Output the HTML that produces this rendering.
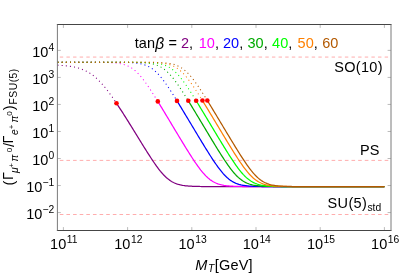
<!DOCTYPE html>
<html><head><meta charset="utf-8"><style>
html,body{margin:0;padding:0;background:#fff;overflow:hidden;}
svg{display:block;font-family:"Liberation Sans",sans-serif;}
.t{font-size:14.5px;fill:#000;}
.s{font-size:10.3px;fill:#000;}
.s2{font-size:8px;fill:#000;}
.i{font-style:italic;}
.dt{fill:none;stroke-width:1.05;stroke-dasharray:1.05 3.1;stroke-dashoffset:-0.12;}
.sl{fill:none;stroke-width:1.25;stroke-linejoin:round;}
.tk{fill:none;stroke:#666;stroke-width:0.45;}
.fr{fill:none;stroke:#454545;stroke-width:1;}
.rd{fill:none;stroke:#ff8080;stroke-width:0.65;stroke-dasharray:3.6 3.03;}
.pk{fill:none;stroke:#ffd0d0;stroke-width:1.8;stroke-dasharray:3.4 3.23;}
</style></head><body>
<svg width="415" height="274" viewBox="0 0 415 274">
<rect width="415" height="274" fill="#fff"/>
<path d="M59.8,57.1 H388.6" class="pk"/>
<path d="M59.8,160.4 H388.6" class="rd"/>
<path d="M59.8,214.5 H388.6" class="rd"/>
<path d="M57.40,65.14 L58.40,65.20 L59.40,65.26 L60.40,65.33 L61.40,65.40 L62.40,65.48 L63.40,65.56 L64.40,65.66 L65.40,65.76 L66.40,65.86 L67.40,65.98 L68.40,66.11 L69.40,66.24 L70.40,66.39 L71.40,66.55 L72.40,66.72 L73.40,66.91 L74.40,67.11 L75.40,67.33 L76.40,67.57 L77.40,67.82 L78.40,68.10 L79.40,68.39 L80.40,68.71 L81.40,69.06 L82.40,69.43 L83.40,69.83 L84.40,70.26 L85.40,70.72 L86.40,71.21 L87.40,71.74 L88.40,72.31 L89.40,72.91 L90.40,73.55 L91.40,74.23 L92.40,74.94 L93.40,75.70 L94.40,76.51 L95.40,77.35 L96.40,78.23 L97.40,79.16 L98.40,80.12 L99.40,81.13 L100.40,82.17 L101.40,83.26 L102.40,84.38 L103.40,85.54 L104.40,86.73 L105.40,87.95 L106.40,89.21 L107.40,90.49 L108.40,91.80 L109.40,93.14 L110.40,94.51 L111.40,95.89 L112.40,97.30 L113.40,98.73 L114.40,100.18 L115.40,101.64 L116.40,103.13 L116.50,103.27" stroke="#800080" class="dt"/>
<path d="M57.40,62.25 L58.40,62.25 L59.40,62.25 L60.40,62.25 L61.40,62.25 L62.40,62.25 L63.40,62.25 L64.40,62.25 L65.40,62.25 L66.40,62.25 L67.40,62.25 L68.40,62.25 L69.40,62.25 L70.40,62.25 L71.40,62.25 L72.40,62.25 L73.40,62.25 L74.40,62.25 L75.40,62.25 L76.40,62.25 L77.40,62.25 L78.40,62.25 L79.40,62.25 L80.40,62.25 L81.40,62.26 L82.40,62.26 L83.40,62.26 L84.40,62.26 L85.40,62.26 L86.40,62.26 L87.40,62.26 L88.40,62.27 L89.40,62.27 L90.40,62.27 L91.40,62.27 L92.40,62.28 L93.40,62.28 L94.40,62.29 L95.40,62.29 L96.40,62.30 L97.40,62.30 L98.40,62.31 L99.40,62.32 L100.40,62.33 L101.40,62.35 L102.40,62.36 L103.40,62.38 L104.40,62.40 L105.40,62.42 L106.40,62.45 L107.40,62.48 L108.40,62.51 L109.40,62.55 L110.40,62.60 L111.40,62.65 L112.40,62.71 L113.40,62.78 L114.40,62.86 L115.40,62.95 L116.40,63.06 L117.40,63.18 L118.40,63.32 L119.40,63.47 L120.40,63.65 L121.40,63.85 L122.40,64.08 L123.40,64.34 L124.40,64.63 L125.40,64.96 L126.40,65.33 L127.40,65.74 L128.40,66.19 L129.40,66.70 L130.40,67.25 L131.40,67.87 L132.40,68.54 L133.40,69.26 L134.40,70.05 L135.40,70.90 L136.40,71.81 L137.40,72.78 L138.40,73.80 L139.40,74.88 L140.40,76.02 L141.40,77.21 L142.40,78.45 L143.40,79.73 L144.40,81.05 L145.40,82.42 L146.40,83.82 L147.40,85.25 L148.40,86.71 L149.40,88.19 L150.40,89.70 L151.40,91.24 L152.40,92.79 L153.40,94.35 L154.40,95.93 L155.40,97.53 L156.40,99.13 L157.40,100.75 L157.80,101.40" stroke="#ff00ff" class="dt"/>
<path d="M57.40,62.25 L58.40,62.25 L59.40,62.25 L60.40,62.25 L61.40,62.25 L62.40,62.25 L63.40,62.25 L64.40,62.25 L65.40,62.25 L66.40,62.25 L67.40,62.25 L68.40,62.25 L69.40,62.25 L70.40,62.25 L71.40,62.25 L72.40,62.25 L73.40,62.25 L74.40,62.25 L75.40,62.25 L76.40,62.25 L77.40,62.25 L78.40,62.25 L79.40,62.25 L80.40,62.25 L81.40,62.25 L82.40,62.25 L83.40,62.25 L84.40,62.25 L85.40,62.25 L86.40,62.25 L87.40,62.25 L88.40,62.25 L89.40,62.25 L90.40,62.25 L91.40,62.25 L92.40,62.25 L93.40,62.25 L94.40,62.25 L95.40,62.25 L96.40,62.25 L97.40,62.25 L98.40,62.25 L99.40,62.25 L100.40,62.26 L101.40,62.26 L102.40,62.26 L103.40,62.26 L104.40,62.26 L105.40,62.26 L106.40,62.26 L107.40,62.26 L108.40,62.27 L109.40,62.27 L110.40,62.27 L111.40,62.27 L112.40,62.28 L113.40,62.28 L114.40,62.29 L115.40,62.29 L116.40,62.30 L117.40,62.31 L118.40,62.32 L119.40,62.33 L120.40,62.34 L121.40,62.35 L122.40,62.37 L123.40,62.39 L124.40,62.41 L125.40,62.43 L126.40,62.46 L127.40,62.49 L128.40,62.53 L129.40,62.57 L130.40,62.62 L131.40,62.68 L132.40,62.75 L133.40,62.82 L134.40,62.91 L135.40,63.00 L136.40,63.12 L137.40,63.24 L138.40,63.39 L139.40,63.56 L140.40,63.75 L141.40,63.96 L142.40,64.20 L143.40,64.48 L144.40,64.79 L145.40,65.13 L146.40,65.52 L147.40,65.96 L148.40,66.44 L149.40,66.97 L150.40,67.55 L151.40,68.19 L152.40,68.89 L153.40,69.65 L154.40,70.46 L155.40,71.34 L156.40,72.28 L157.40,73.28 L158.40,74.33 L159.40,75.44 L160.40,76.60 L161.40,77.82 L162.40,79.08 L163.40,80.38 L164.40,81.72 L165.40,83.10 L166.40,84.52 L167.40,85.97 L168.40,87.44 L169.40,88.94 L170.40,90.46 L171.40,92.00 L172.40,93.56 L173.40,95.13 L174.40,96.72 L175.40,98.32 L176.40,99.93 L177.00,100.90" stroke="#0000ff" class="dt"/>
<path d="M57.40,62.25 L58.40,62.25 L59.40,62.25 L60.40,62.25 L61.40,62.25 L62.40,62.25 L63.40,62.25 L64.40,62.25 L65.40,62.25 L66.40,62.25 L67.40,62.25 L68.40,62.25 L69.40,62.25 L70.40,62.25 L71.40,62.25 L72.40,62.25 L73.40,62.25 L74.40,62.25 L75.40,62.25 L76.40,62.25 L77.40,62.25 L78.40,62.25 L79.40,62.25 L80.40,62.25 L81.40,62.25 L82.40,62.25 L83.40,62.25 L84.40,62.25 L85.40,62.25 L86.40,62.25 L87.40,62.25 L88.40,62.25 L89.40,62.25 L90.40,62.25 L91.40,62.25 L92.40,62.25 L93.40,62.25 L94.40,62.25 L95.40,62.25 L96.40,62.25 L97.40,62.25 L98.40,62.25 L99.40,62.25 L100.40,62.25 L101.40,62.25 L102.40,62.25 L103.40,62.25 L104.40,62.25 L105.40,62.25 L106.40,62.25 L107.40,62.25 L108.40,62.25 L109.40,62.25 L110.40,62.25 L111.40,62.25 L112.40,62.26 L113.40,62.26 L114.40,62.26 L115.40,62.26 L116.40,62.26 L117.40,62.26 L118.40,62.26 L119.40,62.27 L120.40,62.27 L121.40,62.27 L122.40,62.27 L123.40,62.28 L124.40,62.28 L125.40,62.29 L126.40,62.29 L127.40,62.30 L128.40,62.31 L129.40,62.31 L130.40,62.32 L131.40,62.34 L132.40,62.35 L133.40,62.36 L134.40,62.38 L135.40,62.40 L136.40,62.42 L137.40,62.45 L138.40,62.48 L139.40,62.52 L140.40,62.56 L141.40,62.61 L142.40,62.66 L143.40,62.72 L144.40,62.79 L145.40,62.87 L146.40,62.97 L147.40,63.07 L148.40,63.20 L149.40,63.34 L150.40,63.49 L151.40,63.67 L152.40,63.88 L153.40,64.11 L154.40,64.37 L155.40,64.67 L156.40,65.00 L157.40,65.38 L158.40,65.79 L159.40,66.25 L160.40,66.77 L161.40,67.33 L162.40,67.95 L163.40,68.63 L164.40,69.36 L165.40,70.16 L166.40,71.01 L167.40,71.93 L168.40,72.91 L169.40,73.94 L170.40,75.03 L171.40,76.17 L172.40,77.37 L173.40,78.61 L174.40,79.90 L175.40,81.23 L176.40,82.60 L177.40,84.00 L178.40,85.44 L179.40,86.90 L180.40,88.39 L181.40,89.90 L182.40,91.44 L183.40,92.99 L184.40,94.56 L185.40,96.14 L186.40,97.74 L187.40,99.34 L188.30,100.80" stroke="#00aa00" class="dt"/>
<path d="M57.40,62.25 L58.40,62.25 L59.40,62.25 L60.40,62.25 L61.40,62.25 L62.40,62.25 L63.40,62.25 L64.40,62.25 L65.40,62.25 L66.40,62.25 L67.40,62.25 L68.40,62.25 L69.40,62.25 L70.40,62.25 L71.40,62.25 L72.40,62.25 L73.40,62.25 L74.40,62.25 L75.40,62.25 L76.40,62.25 L77.40,62.25 L78.40,62.25 L79.40,62.25 L80.40,62.25 L81.40,62.25 L82.40,62.25 L83.40,62.25 L84.40,62.25 L85.40,62.25 L86.40,62.25 L87.40,62.25 L88.40,62.25 L89.40,62.25 L90.40,62.25 L91.40,62.25 L92.40,62.25 L93.40,62.25 L94.40,62.25 L95.40,62.25 L96.40,62.25 L97.40,62.25 L98.40,62.25 L99.40,62.25 L100.40,62.25 L101.40,62.25 L102.40,62.25 L103.40,62.25 L104.40,62.25 L105.40,62.25 L106.40,62.25 L107.40,62.25 L108.40,62.25 L109.40,62.25 L110.40,62.25 L111.40,62.25 L112.40,62.25 L113.40,62.25 L114.40,62.25 L115.40,62.25 L116.40,62.25 L117.40,62.25 L118.40,62.25 L119.40,62.25 L120.40,62.26 L121.40,62.26 L122.40,62.26 L123.40,62.26 L124.40,62.26 L125.40,62.26 L126.40,62.26 L127.40,62.27 L128.40,62.27 L129.40,62.27 L130.40,62.27 L131.40,62.28 L132.40,62.28 L133.40,62.29 L134.40,62.29 L135.40,62.30 L136.40,62.31 L137.40,62.32 L138.40,62.33 L139.40,62.34 L140.40,62.35 L141.40,62.37 L142.40,62.38 L143.40,62.40 L144.40,62.43 L145.40,62.46 L146.40,62.49 L147.40,62.52 L148.40,62.56 L149.40,62.61 L150.40,62.67 L151.40,62.73 L152.40,62.80 L153.40,62.88 L154.40,62.98 L155.40,63.09 L156.40,63.21 L157.40,63.35 L158.40,63.52 L159.40,63.70 L160.40,63.91 L161.40,64.14 L162.40,64.41 L163.40,64.71 L164.40,65.05 L165.40,65.43 L166.40,65.85 L167.40,66.32 L168.40,66.84 L169.40,67.41 L170.40,68.04 L171.40,68.72 L172.40,69.46 L173.40,70.27 L174.40,71.13 L175.40,72.05 L176.40,73.04 L177.40,74.08 L178.40,75.17 L179.40,76.32 L180.40,77.52 L181.40,78.77 L182.40,80.07 L183.40,81.40 L184.40,82.78 L185.40,84.18 L186.40,85.62 L187.40,87.09 L188.40,88.58 L189.40,90.10 L190.40,91.64 L191.40,93.19 L192.40,94.76 L193.40,96.35 L194.40,97.94 L195.40,99.55 L196.15,100.76" stroke="#00ff00" class="dt"/>
<path d="M57.40,62.25 L58.40,62.25 L59.40,62.25 L60.40,62.25 L61.40,62.25 L62.40,62.25 L63.40,62.25 L64.40,62.25 L65.40,62.25 L66.40,62.25 L67.40,62.25 L68.40,62.25 L69.40,62.25 L70.40,62.25 L71.40,62.25 L72.40,62.25 L73.40,62.25 L74.40,62.25 L75.40,62.25 L76.40,62.25 L77.40,62.25 L78.40,62.25 L79.40,62.25 L80.40,62.25 L81.40,62.25 L82.40,62.25 L83.40,62.25 L84.40,62.25 L85.40,62.25 L86.40,62.25 L87.40,62.25 L88.40,62.25 L89.40,62.25 L90.40,62.25 L91.40,62.25 L92.40,62.25 L93.40,62.25 L94.40,62.25 L95.40,62.25 L96.40,62.25 L97.40,62.25 L98.40,62.25 L99.40,62.25 L100.40,62.25 L101.40,62.25 L102.40,62.25 L103.40,62.25 L104.40,62.25 L105.40,62.25 L106.40,62.25 L107.40,62.25 L108.40,62.25 L109.40,62.25 L110.40,62.25 L111.40,62.25 L112.40,62.25 L113.40,62.25 L114.40,62.25 L115.40,62.25 L116.40,62.25 L117.40,62.25 L118.40,62.25 L119.40,62.25 L120.40,62.25 L121.40,62.25 L122.40,62.25 L123.40,62.25 L124.40,62.25 L125.40,62.25 L126.40,62.26 L127.40,62.26 L128.40,62.26 L129.40,62.26 L130.40,62.26 L131.40,62.26 L132.40,62.26 L133.40,62.26 L134.40,62.27 L135.40,62.27 L136.40,62.27 L137.40,62.28 L138.40,62.28 L139.40,62.28 L140.40,62.29 L141.40,62.30 L142.40,62.30 L143.40,62.31 L144.40,62.32 L145.40,62.33 L146.40,62.34 L147.40,62.36 L148.40,62.38 L149.40,62.40 L150.40,62.42 L151.40,62.44 L152.40,62.47 L153.40,62.51 L154.40,62.55 L155.40,62.59 L156.40,62.64 L157.40,62.70 L158.40,62.77 L159.40,62.85 L160.40,62.94 L161.40,63.04 L162.40,63.16 L163.40,63.29 L164.40,63.45 L165.40,63.62 L166.40,63.82 L167.40,64.04 L168.40,64.30 L169.40,64.58 L170.40,64.90 L171.40,65.26 L172.40,65.67 L173.40,66.12 L174.40,66.61 L175.40,67.16 L176.40,67.77 L177.40,68.43 L178.40,69.14 L179.40,69.92 L180.40,70.76 L181.40,71.66 L182.40,72.62 L183.40,73.63 L184.40,74.71 L185.40,75.84 L186.40,77.02 L187.40,78.25 L188.40,79.52 L189.40,80.84 L190.40,82.20 L191.40,83.59 L192.40,85.02 L193.40,86.47 L194.40,87.95 L195.40,89.46 L196.40,90.99 L197.40,92.54 L198.40,94.10 L199.40,95.68 L200.40,97.27 L201.40,98.88 L202.40,100.49 L202.45,100.57" stroke="#ff8000" class="dt"/>
<path d="M57.40,62.25 L58.40,62.25 L59.40,62.25 L60.40,62.25 L61.40,62.25 L62.40,62.25 L63.40,62.25 L64.40,62.25 L65.40,62.25 L66.40,62.25 L67.40,62.25 L68.40,62.25 L69.40,62.25 L70.40,62.25 L71.40,62.25 L72.40,62.25 L73.40,62.25 L74.40,62.25 L75.40,62.25 L76.40,62.25 L77.40,62.25 L78.40,62.25 L79.40,62.25 L80.40,62.25 L81.40,62.25 L82.40,62.25 L83.40,62.25 L84.40,62.25 L85.40,62.25 L86.40,62.25 L87.40,62.25 L88.40,62.25 L89.40,62.25 L90.40,62.25 L91.40,62.25 L92.40,62.25 L93.40,62.25 L94.40,62.25 L95.40,62.25 L96.40,62.25 L97.40,62.25 L98.40,62.25 L99.40,62.25 L100.40,62.25 L101.40,62.25 L102.40,62.25 L103.40,62.25 L104.40,62.25 L105.40,62.25 L106.40,62.25 L107.40,62.25 L108.40,62.25 L109.40,62.25 L110.40,62.25 L111.40,62.25 L112.40,62.25 L113.40,62.25 L114.40,62.25 L115.40,62.25 L116.40,62.25 L117.40,62.25 L118.40,62.25 L119.40,62.25 L120.40,62.25 L121.40,62.25 L122.40,62.25 L123.40,62.25 L124.40,62.25 L125.40,62.25 L126.40,62.25 L127.40,62.25 L128.40,62.25 L129.40,62.25 L130.40,62.25 L131.40,62.26 L132.40,62.26 L133.40,62.26 L134.40,62.26 L135.40,62.26 L136.40,62.26 L137.40,62.26 L138.40,62.26 L139.40,62.27 L140.40,62.27 L141.40,62.27 L142.40,62.28 L143.40,62.28 L144.40,62.29 L145.40,62.29 L146.40,62.30 L147.40,62.30 L148.40,62.31 L149.40,62.32 L150.40,62.33 L151.40,62.35 L152.40,62.36 L153.40,62.38 L154.40,62.40 L155.40,62.42 L156.40,62.45 L157.40,62.48 L158.40,62.51 L159.40,62.55 L160.40,62.60 L161.40,62.65 L162.40,62.71 L163.40,62.78 L164.40,62.86 L165.40,62.95 L166.40,63.05 L167.40,63.17 L168.40,63.31 L169.40,63.46 L170.40,63.64 L171.40,63.84 L172.40,64.07 L173.40,64.32 L174.40,64.61 L175.40,64.94 L176.40,65.30 L177.40,65.71 L178.40,66.17 L179.40,66.67 L180.40,67.22 L181.40,67.83 L182.40,68.50 L183.40,69.22 L184.40,70.01 L185.40,70.85 L186.40,71.76 L187.40,72.72 L188.40,73.74 L189.40,74.82 L190.40,75.96 L191.40,77.14 L192.40,78.38 L193.40,79.66 L194.40,80.98 L195.40,82.34 L196.40,83.74 L197.40,85.17 L198.40,86.63 L199.40,88.11 L200.40,89.62 L201.40,91.15 L202.40,92.70 L203.40,94.27 L204.40,95.85 L205.40,97.44 L206.40,99.04 L207.30,100.50" stroke="#b35900" class="dt"/>
<path d="M116.50,103.27 L117.50,104.77 L118.50,106.28 L119.50,107.81 L120.50,109.34 L121.50,110.89 L122.50,112.45 L123.50,114.01 L124.50,115.59 L125.50,117.17 L126.50,118.76 L127.50,120.35 L128.50,121.95 L129.50,123.56 L130.50,125.17 L131.50,126.78 L132.50,128.39 L133.50,130.01 L134.50,131.63 L135.50,133.26 L136.50,134.88 L137.50,136.50 L138.50,138.13 L139.50,139.75 L140.50,141.37 L141.50,142.99 L142.50,144.60 L143.50,146.21 L144.50,147.82 L145.50,149.41 L146.50,151.00 L147.50,152.58 L148.50,154.15 L149.50,155.71 L150.50,157.25 L151.50,158.78 L152.50,160.28 L153.50,161.77 L154.50,163.23 L155.50,164.66 L156.50,166.06 L157.50,167.43 L158.50,168.76 L159.50,170.05 L160.50,171.30 L161.50,172.49 L162.50,173.64 L163.50,174.74 L164.50,175.78 L165.50,176.77 L166.50,177.69 L167.50,178.56 L168.50,179.36 L169.50,180.11 L170.50,180.79 L171.50,181.42 L172.50,182.00 L173.50,182.52 L174.50,182.99 L175.50,183.41 L176.50,183.79 L177.50,184.13 L178.50,184.44 L179.50,184.70 L180.50,184.94 L181.50,185.15 L182.50,185.34 L183.50,185.50 L184.50,185.64 L185.50,185.77 L186.50,185.87 L187.50,185.97 L188.50,186.05 L189.50,186.13 L190.50,186.19 L191.50,186.24 L192.50,186.29 L193.50,186.33 L194.50,186.37 L195.50,186.40 L196.50,186.43 L197.50,186.45 L198.50,186.47 L199.50,186.49 L200.50,186.50 L201.50,186.52 L202.50,186.53 L203.50,186.54 L204.50,186.55 L205.50,186.55 L206.50,186.56 L207.50,186.57 L208.50,186.57 L209.50,186.57 L210.50,186.58 L211.50,186.58 L212.50,186.58 L213.50,186.59 L214.50,186.59 L215.50,186.59 L216.50,186.59 L217.50,186.59 L218.50,186.59 L219.50,186.59 L220.50,186.60 L221.50,186.60 L222.50,186.60 L223.50,186.60 L224.50,186.60 L225.50,186.60 L226.50,186.60 L227.50,186.60 L228.50,186.60 L229.50,186.60 L230.50,186.60 L231.50,186.60 L232.50,186.60 L233.50,186.60 L234.50,186.60 L235.50,186.60 L236.50,186.60 L237.50,186.60 L238.50,186.60 L239.50,186.60 L240.50,186.60 L241.50,186.60 L242.50,186.60 L243.50,186.60 L244.50,186.60 L245.50,186.60 L246.50,186.60 L247.50,186.60 L248.50,186.60 L249.50,186.60 L250.50,186.60 L251.50,186.60 L252.50,186.60 L253.50,186.60 L254.50,186.60 L255.50,186.60 L256.50,186.60 L257.50,186.60 L258.50,186.60 L259.50,186.60 L260.50,186.60 L261.50,186.60 L262.50,186.60 L263.50,186.60 L264.50,186.60 L265.50,186.60 L266.50,186.60 L267.50,186.60 L268.50,186.60 L269.50,186.60 L270.50,186.60 L271.50,186.60 L272.50,186.60 L273.50,186.60 L274.50,186.60 L275.50,186.60 L276.50,186.60 L277.50,186.60 L278.50,186.60 L279.50,186.60 L280.50,186.60 L281.50,186.60 L282.50,186.60 L283.50,186.60 L284.50,186.60 L285.50,186.60 L286.50,186.60 L287.50,186.60 L288.50,186.60 L289.50,186.60 L290.50,186.60 L291.50,186.60 L292.50,186.60 L293.50,186.60 L294.50,186.60 L295.50,186.60 L296.50,186.60 L297.50,186.60 L298.50,186.60 L299.50,186.60 L300.50,186.60 L301.50,186.60 L302.50,186.60 L303.50,186.60 L304.50,186.60 L305.50,186.60 L306.50,186.60 L307.50,186.60 L308.50,186.60 L309.50,186.60 L310.50,186.60 L311.50,186.60 L312.50,186.60 L313.50,186.60 L314.50,186.60 L315.50,186.60 L316.50,186.60 L317.50,186.60 L318.50,186.60 L319.50,186.60 L320.50,186.60 L321.50,186.60 L322.50,186.60 L323.50,186.60 L324.50,186.60 L325.50,186.60 L326.50,186.60 L327.50,186.60 L328.50,186.60 L329.50,186.60 L330.50,186.60 L331.50,186.60 L332.50,186.60 L333.50,186.60 L334.50,186.60 L335.50,186.60 L336.50,186.60 L337.50,186.60 L338.50,186.60 L339.50,186.60 L340.50,186.60 L341.50,186.60 L342.50,186.60 L343.50,186.60 L344.50,186.60 L345.50,186.60 L346.50,186.60 L347.50,186.60 L348.50,186.60 L349.50,186.60 L350.50,186.60 L351.50,186.60 L352.50,186.60 L353.50,186.60 L354.50,186.60 L355.50,186.60 L356.50,186.60 L357.50,186.60 L358.50,186.60 L359.50,186.60 L360.50,186.60 L361.50,186.60 L362.50,186.60 L363.50,186.60 L364.50,186.60 L365.50,186.60 L366.50,186.60 L367.50,186.60 L368.50,186.60 L369.50,186.60 L370.50,186.60 L371.50,186.60 L372.50,186.60 L373.50,186.60 L374.50,186.60 L375.50,186.60 L376.50,186.60 L377.50,186.60 L378.50,186.60 L379.50,186.60 L380.50,186.60 L381.50,186.60 L382.50,186.60 L383.50,186.60 L384.40,186.60" stroke="#800080" class="sl"/>
<path d="M157.80,101.40 L158.80,103.02 L159.80,104.66 L160.80,106.30 L161.80,107.94 L162.80,109.59 L163.80,111.25 L164.80,112.90 L165.80,114.56 L166.80,116.23 L167.80,117.89 L168.80,119.55 L169.80,121.22 L170.80,122.89 L171.80,124.56 L172.80,126.22 L173.80,127.89 L174.80,129.56 L175.80,131.22 L176.80,132.88 L177.80,134.55 L178.80,136.21 L179.80,137.86 L180.80,139.52 L181.80,141.16 L182.80,142.81 L183.80,144.45 L184.80,146.08 L185.80,147.71 L186.80,149.32 L187.80,150.93 L188.80,152.53 L189.80,154.11 L190.80,155.68 L191.80,157.24 L192.80,158.77 L193.80,160.29 L194.80,161.78 L195.80,163.25 L196.80,164.69 L197.80,166.10 L198.80,167.47 L199.80,168.80 L200.80,170.10 L201.80,171.34 L202.80,172.54 L203.80,173.69 L204.80,174.79 L205.80,175.83 L206.80,176.81 L207.80,177.73 L208.80,178.60 L209.80,179.40 L210.80,180.14 L211.80,180.82 L212.80,181.45 L213.80,182.02 L214.80,182.54 L215.80,183.01 L216.80,183.43 L217.80,183.81 L218.80,184.14 L219.80,184.44 L220.80,184.71 L221.80,184.95 L222.80,185.15 L223.80,185.34 L224.80,185.50 L225.80,185.64 L226.80,185.76 L227.80,185.87 L228.80,185.97 L229.80,186.05 L230.80,186.12 L231.80,186.18 L232.80,186.24 L233.80,186.29 L234.80,186.33 L235.80,186.36 L236.80,186.40 L237.80,186.42 L238.80,186.45 L239.80,186.47 L240.80,186.48 L241.80,186.50 L242.80,186.51 L243.80,186.52 L244.80,186.53 L245.80,186.54 L246.80,186.55 L247.80,186.56 L248.80,186.56 L249.80,186.57 L250.80,186.57 L251.80,186.58 L252.80,186.58 L253.80,186.58 L254.80,186.58 L255.80,186.59 L256.80,186.59 L257.80,186.59 L258.80,186.59 L259.80,186.59 L260.80,186.59 L261.80,186.59 L262.80,186.60 L263.80,186.60 L264.80,186.60 L265.80,186.60 L266.80,186.60 L267.80,186.60 L268.80,186.60 L269.80,186.60 L270.80,186.60 L271.80,186.60 L272.80,186.60 L273.80,186.60 L274.80,186.60 L275.80,186.60 L276.80,186.60 L277.80,186.60 L278.80,186.60 L279.80,186.60 L280.80,186.60 L281.80,186.60 L282.80,186.60 L283.80,186.60 L284.80,186.60 L285.80,186.60 L286.80,186.60 L287.80,186.60 L288.80,186.60 L289.80,186.60 L290.80,186.60 L291.80,186.60 L292.80,186.60 L293.80,186.60 L294.80,186.60 L295.80,186.60 L296.80,186.60 L297.80,186.60 L298.80,186.60 L299.80,186.60 L300.80,186.60 L301.80,186.60 L302.80,186.60 L303.80,186.60 L304.80,186.60 L305.80,186.60 L306.80,186.60 L307.80,186.60 L308.80,186.60 L309.80,186.60 L310.80,186.60 L311.80,186.60 L312.80,186.60 L313.80,186.60 L314.80,186.60 L315.80,186.60 L316.80,186.60 L317.80,186.60 L318.80,186.60 L319.80,186.60 L320.80,186.60 L321.80,186.60 L322.80,186.60 L323.80,186.60 L324.80,186.60 L325.80,186.60 L326.80,186.60 L327.80,186.60 L328.80,186.60 L329.80,186.60 L330.80,186.60 L331.80,186.60 L332.80,186.60 L333.80,186.60 L334.80,186.60 L335.80,186.60 L336.80,186.60 L337.80,186.60 L338.80,186.60 L339.80,186.60 L340.80,186.60 L341.80,186.60 L342.80,186.60 L343.80,186.60 L344.80,186.60 L345.80,186.60 L346.80,186.60 L347.80,186.60 L348.80,186.60 L349.80,186.60 L350.80,186.60 L351.80,186.60 L352.80,186.60 L353.80,186.60 L354.80,186.60 L355.80,186.60 L356.80,186.60 L357.80,186.60 L358.80,186.60 L359.80,186.60 L360.80,186.60 L361.80,186.60 L362.80,186.60 L363.80,186.60 L364.80,186.60 L365.80,186.60 L366.80,186.60 L367.80,186.60 L368.80,186.60 L369.80,186.60 L370.80,186.60 L371.80,186.60 L372.80,186.60 L373.80,186.60 L374.80,186.60 L375.80,186.60 L376.80,186.60 L377.80,186.60 L378.80,186.60 L379.80,186.60 L380.80,186.60 L381.80,186.60 L382.80,186.60 L383.80,186.60 L384.40,186.60" stroke="#ff00ff" class="sl"/>
<path d="M177.00,100.90 L178.00,102.53 L179.00,104.16 L180.00,105.80 L181.00,107.44 L182.00,109.09 L183.00,110.74 L184.00,112.40 L185.00,114.06 L186.00,115.72 L187.00,117.38 L188.00,119.05 L189.00,120.71 L190.00,122.38 L191.00,124.05 L192.00,125.71 L193.00,127.38 L194.00,129.05 L195.00,130.71 L196.00,132.38 L197.00,134.04 L198.00,135.70 L199.00,137.36 L200.00,139.01 L201.00,140.66 L202.00,142.31 L203.00,143.95 L204.00,145.58 L205.00,147.21 L206.00,148.83 L207.00,150.44 L208.00,152.04 L209.00,153.63 L210.00,155.21 L211.00,156.77 L212.00,158.31 L213.00,159.83 L214.00,161.33 L215.00,162.81 L216.00,164.25 L217.00,165.67 L218.00,167.05 L219.00,168.40 L220.00,169.71 L221.00,170.97 L222.00,172.18 L223.00,173.35 L224.00,174.46 L225.00,175.52 L226.00,176.52 L227.00,177.46 L228.00,178.34 L229.00,179.16 L230.00,179.92 L231.00,180.62 L232.00,181.27 L233.00,181.85 L234.00,182.39 L235.00,182.87 L236.00,183.31 L237.00,183.70 L238.00,184.04 L239.00,184.36 L240.00,184.63 L241.00,184.88 L242.00,185.09 L243.00,185.28 L244.00,185.45 L245.00,185.60 L246.00,185.73 L247.00,185.84 L248.00,185.94 L249.00,186.03 L250.00,186.10 L251.00,186.17 L252.00,186.22 L253.00,186.27 L254.00,186.32 L255.00,186.35 L256.00,186.39 L257.00,186.41 L258.00,186.44 L259.00,186.46 L260.00,186.48 L261.00,186.50 L262.00,186.51 L263.00,186.52 L264.00,186.53 L265.00,186.54 L266.00,186.55 L267.00,186.56 L268.00,186.56 L269.00,186.57 L270.00,186.57 L271.00,186.57 L272.00,186.58 L273.00,186.58 L274.00,186.58 L275.00,186.59 L276.00,186.59 L277.00,186.59 L278.00,186.59 L279.00,186.59 L280.00,186.59 L281.00,186.59 L282.00,186.59 L283.00,186.60 L284.00,186.60 L285.00,186.60 L286.00,186.60 L287.00,186.60 L288.00,186.60 L289.00,186.60 L290.00,186.60 L291.00,186.60 L292.00,186.60 L293.00,186.60 L294.00,186.60 L295.00,186.60 L296.00,186.60 L297.00,186.60 L298.00,186.60 L299.00,186.60 L300.00,186.60 L301.00,186.60 L302.00,186.60 L303.00,186.60 L304.00,186.60 L305.00,186.60 L306.00,186.60 L307.00,186.60 L308.00,186.60 L309.00,186.60 L310.00,186.60 L311.00,186.60 L312.00,186.60 L313.00,186.60 L314.00,186.60 L315.00,186.60 L316.00,186.60 L317.00,186.60 L318.00,186.60 L319.00,186.60 L320.00,186.60 L321.00,186.60 L322.00,186.60 L323.00,186.60 L324.00,186.60 L325.00,186.60 L326.00,186.60 L327.00,186.60 L328.00,186.60 L329.00,186.60 L330.00,186.60 L331.00,186.60 L332.00,186.60 L333.00,186.60 L334.00,186.60 L335.00,186.60 L336.00,186.60 L337.00,186.60 L338.00,186.60 L339.00,186.60 L340.00,186.60 L341.00,186.60 L342.00,186.60 L343.00,186.60 L344.00,186.60 L345.00,186.60 L346.00,186.60 L347.00,186.60 L348.00,186.60 L349.00,186.60 L350.00,186.60 L351.00,186.60 L352.00,186.60 L353.00,186.60 L354.00,186.60 L355.00,186.60 L356.00,186.60 L357.00,186.60 L358.00,186.60 L359.00,186.60 L360.00,186.60 L361.00,186.60 L362.00,186.60 L363.00,186.60 L364.00,186.60 L365.00,186.60 L366.00,186.60 L367.00,186.60 L368.00,186.60 L369.00,186.60 L370.00,186.60 L371.00,186.60 L372.00,186.60 L373.00,186.60 L374.00,186.60 L375.00,186.60 L376.00,186.60 L377.00,186.60 L378.00,186.60 L379.00,186.60 L380.00,186.60 L381.00,186.60 L382.00,186.60 L383.00,186.60 L384.00,186.60 L384.40,186.60" stroke="#0000ff" class="sl"/>
<path d="M188.30,100.80 L189.30,102.42 L190.30,104.05 L191.30,105.69 L192.30,107.33 L193.30,108.98 L194.30,110.64 L195.30,112.29 L196.30,113.95 L197.30,115.61 L198.30,117.27 L199.30,118.94 L200.30,120.61 L201.30,122.27 L202.30,123.94 L203.30,125.61 L204.30,127.27 L205.30,128.94 L206.30,130.61 L207.30,132.27 L208.30,133.93 L209.30,135.59 L210.30,137.25 L211.30,138.90 L212.30,140.56 L213.30,142.20 L214.30,143.84 L215.30,145.48 L216.30,147.11 L217.30,148.73 L218.30,150.34 L219.30,151.94 L220.30,153.53 L221.30,155.11 L222.30,156.67 L223.30,158.21 L224.30,159.73 L225.30,161.23 L226.30,162.71 L227.30,164.16 L228.30,165.58 L229.30,166.97 L230.30,168.31 L231.30,169.62 L232.30,170.89 L233.30,172.11 L234.30,173.28 L235.30,174.39 L236.30,175.45 L237.30,176.46 L238.30,177.40 L239.30,178.29 L240.30,179.11 L241.30,179.87 L242.30,180.58 L243.30,181.23 L244.30,181.82 L245.30,182.35 L246.30,182.84 L247.30,183.28 L248.30,183.67 L249.30,184.02 L250.30,184.34 L251.30,184.61 L252.30,184.86 L253.30,185.08 L254.30,185.27 L255.30,185.44 L256.30,185.59 L257.30,185.72 L258.30,185.83 L259.30,185.93 L260.30,186.02 L261.30,186.10 L262.30,186.16 L263.30,186.22 L264.30,186.27 L265.30,186.31 L266.30,186.35 L267.30,186.38 L268.30,186.41 L269.30,186.44 L270.30,186.46 L271.30,186.48 L272.30,186.49 L273.30,186.51 L274.30,186.52 L275.30,186.53 L276.30,186.54 L277.30,186.55 L278.30,186.56 L279.30,186.56 L280.30,186.57 L281.30,186.57 L282.30,186.57 L283.30,186.58 L284.30,186.58 L285.30,186.58 L286.30,186.59 L287.30,186.59 L288.30,186.59 L289.30,186.59 L290.30,186.59 L291.30,186.59 L292.30,186.59 L293.30,186.59 L294.30,186.60 L295.30,186.60 L296.30,186.60 L297.30,186.60 L298.30,186.60 L299.30,186.60 L300.30,186.60 L301.30,186.60 L302.30,186.60 L303.30,186.60 L304.30,186.60 L305.30,186.60 L306.30,186.60 L307.30,186.60 L308.30,186.60 L309.30,186.60 L310.30,186.60 L311.30,186.60 L312.30,186.60 L313.30,186.60 L314.30,186.60 L315.30,186.60 L316.30,186.60 L317.30,186.60 L318.30,186.60 L319.30,186.60 L320.30,186.60 L321.30,186.60 L322.30,186.60 L323.30,186.60 L324.30,186.60 L325.30,186.60 L326.30,186.60 L327.30,186.60 L328.30,186.60 L329.30,186.60 L330.30,186.60 L331.30,186.60 L332.30,186.60 L333.30,186.60 L334.30,186.60 L335.30,186.60 L336.30,186.60 L337.30,186.60 L338.30,186.60 L339.30,186.60 L340.30,186.60 L341.30,186.60 L342.30,186.60 L343.30,186.60 L344.30,186.60 L345.30,186.60 L346.30,186.60 L347.30,186.60 L348.30,186.60 L349.30,186.60 L350.30,186.60 L351.30,186.60 L352.30,186.60 L353.30,186.60 L354.30,186.60 L355.30,186.60 L356.30,186.60 L357.30,186.60 L358.30,186.60 L359.30,186.60 L360.30,186.60 L361.30,186.60 L362.30,186.60 L363.30,186.60 L364.30,186.60 L365.30,186.60 L366.30,186.60 L367.30,186.60 L368.30,186.60 L369.30,186.60 L370.30,186.60 L371.30,186.60 L372.30,186.60 L373.30,186.60 L374.30,186.60 L375.30,186.60 L376.30,186.60 L377.30,186.60 L378.30,186.60 L379.30,186.60 L380.30,186.60 L381.30,186.60 L382.30,186.60 L383.30,186.60 L384.30,186.60 L384.40,186.60" stroke="#00aa00" class="sl"/>
<path d="M196.15,100.76 L197.15,102.39 L198.15,104.02 L199.15,105.66 L200.15,107.30 L201.15,108.95 L202.15,110.60 L203.15,112.26 L204.15,113.91 L205.15,115.58 L206.15,117.24 L207.15,118.90 L208.15,120.57 L209.15,122.24 L210.15,123.90 L211.15,125.57 L212.15,127.24 L213.15,128.90 L214.15,130.57 L215.15,132.23 L216.15,133.90 L217.15,135.56 L218.15,137.22 L219.15,138.87 L220.15,140.52 L221.15,142.17 L222.15,143.81 L223.15,145.44 L224.15,147.07 L225.15,148.69 L226.15,150.31 L227.15,151.91 L228.15,153.50 L229.15,155.07 L230.15,156.63 L231.15,158.18 L232.15,159.70 L233.15,161.20 L234.15,162.68 L235.15,164.13 L236.15,165.55 L237.15,166.94 L238.15,168.29 L239.15,169.60 L240.15,170.86 L241.15,172.08 L242.15,173.25 L243.15,174.37 L244.15,175.43 L245.15,176.44 L246.15,177.38 L247.15,178.27 L248.15,179.09 L249.15,179.86 L250.15,180.56 L251.15,181.21 L252.15,181.81 L253.15,182.34 L254.15,182.83 L255.15,183.27 L256.15,183.66 L257.15,184.02 L258.15,184.33 L259.15,184.61 L260.15,184.86 L261.15,185.08 L262.15,185.27 L263.15,185.44 L264.15,185.59 L265.15,185.72 L266.15,185.83 L267.15,185.93 L268.15,186.02 L269.15,186.09 L270.15,186.16 L271.15,186.22 L272.15,186.27 L273.15,186.31 L274.15,186.35 L275.15,186.38 L276.15,186.41 L277.15,186.44 L278.15,186.46 L279.15,186.48 L280.15,186.49 L281.15,186.51 L282.15,186.52 L283.15,186.53 L284.15,186.54 L285.15,186.55 L286.15,186.55 L287.15,186.56 L288.15,186.57 L289.15,186.57 L290.15,186.57 L291.15,186.58 L292.15,186.58 L293.15,186.58 L294.15,186.59 L295.15,186.59 L296.15,186.59 L297.15,186.59 L298.15,186.59 L299.15,186.59 L300.15,186.59 L301.15,186.59 L302.15,186.60 L303.15,186.60 L304.15,186.60 L305.15,186.60 L306.15,186.60 L307.15,186.60 L308.15,186.60 L309.15,186.60 L310.15,186.60 L311.15,186.60 L312.15,186.60 L313.15,186.60 L314.15,186.60 L315.15,186.60 L316.15,186.60 L317.15,186.60 L318.15,186.60 L319.15,186.60 L320.15,186.60 L321.15,186.60 L322.15,186.60 L323.15,186.60 L324.15,186.60 L325.15,186.60 L326.15,186.60 L327.15,186.60 L328.15,186.60 L329.15,186.60 L330.15,186.60 L331.15,186.60 L332.15,186.60 L333.15,186.60 L334.15,186.60 L335.15,186.60 L336.15,186.60 L337.15,186.60 L338.15,186.60 L339.15,186.60 L340.15,186.60 L341.15,186.60 L342.15,186.60 L343.15,186.60 L344.15,186.60 L345.15,186.60 L346.15,186.60 L347.15,186.60 L348.15,186.60 L349.15,186.60 L350.15,186.60 L351.15,186.60 L352.15,186.60 L353.15,186.60 L354.15,186.60 L355.15,186.60 L356.15,186.60 L357.15,186.60 L358.15,186.60 L359.15,186.60 L360.15,186.60 L361.15,186.60 L362.15,186.60 L363.15,186.60 L364.15,186.60 L365.15,186.60 L366.15,186.60 L367.15,186.60 L368.15,186.60 L369.15,186.60 L370.15,186.60 L371.15,186.60 L372.15,186.60 L373.15,186.60 L374.15,186.60 L375.15,186.60 L376.15,186.60 L377.15,186.60 L378.15,186.60 L379.15,186.60 L380.15,186.60 L381.15,186.60 L382.15,186.60 L383.15,186.60 L384.15,186.60 L384.40,186.60" stroke="#00ff00" class="sl"/>
<path d="M202.45,100.57 L203.45,102.19 L204.45,103.82 L205.45,105.46 L206.45,107.10 L207.45,108.75 L208.45,110.40 L209.45,112.06 L210.45,113.72 L211.45,115.38 L212.45,117.04 L213.45,118.71 L214.45,120.37 L215.45,122.04 L216.45,123.71 L217.45,125.37 L218.45,127.04 L219.45,128.71 L220.45,130.37 L221.45,132.04 L222.45,133.70 L223.45,135.36 L224.45,137.02 L225.45,138.67 L226.45,140.32 L227.45,141.97 L228.45,143.61 L229.45,145.25 L230.45,146.88 L231.45,148.50 L232.45,150.11 L233.45,151.72 L234.45,153.31 L235.45,154.89 L236.45,156.45 L237.45,157.99 L238.45,159.52 L239.45,161.03 L240.45,162.51 L241.45,163.96 L242.45,165.38 L243.45,166.77 L244.45,168.13 L245.45,169.44 L246.45,170.71 L247.45,171.94 L248.45,173.11 L249.45,174.24 L250.45,175.31 L251.45,176.32 L252.45,177.27 L253.45,178.17 L254.45,179.00 L255.45,179.77 L256.45,180.48 L257.45,181.14 L258.45,181.74 L259.45,182.28 L260.45,182.78 L261.45,183.22 L262.45,183.62 L263.45,183.98 L264.45,184.29 L265.45,184.58 L266.45,184.83 L267.45,185.05 L268.45,185.25 L269.45,185.42 L270.45,185.57 L271.45,185.70 L272.45,185.82 L273.45,185.92 L274.45,186.01 L275.45,186.09 L276.45,186.15 L277.45,186.21 L278.45,186.26 L279.45,186.31 L280.45,186.35 L281.45,186.38 L282.45,186.41 L283.45,186.43 L284.45,186.46 L285.45,186.48 L286.45,186.49 L287.45,186.51 L288.45,186.52 L289.45,186.53 L290.45,186.54 L291.45,186.55 L292.45,186.55 L293.45,186.56 L294.45,186.57 L295.45,186.57 L296.45,186.57 L297.45,186.58 L298.45,186.58 L299.45,186.58 L300.45,186.59 L301.45,186.59 L302.45,186.59 L303.45,186.59 L304.45,186.59 L305.45,186.59 L306.45,186.59 L307.45,186.59 L308.45,186.60 L309.45,186.60 L310.45,186.60 L311.45,186.60 L312.45,186.60 L313.45,186.60 L314.45,186.60 L315.45,186.60 L316.45,186.60 L317.45,186.60 L318.45,186.60 L319.45,186.60 L320.45,186.60 L321.45,186.60 L322.45,186.60 L323.45,186.60 L324.45,186.60 L325.45,186.60 L326.45,186.60 L327.45,186.60 L328.45,186.60 L329.45,186.60 L330.45,186.60 L331.45,186.60 L332.45,186.60 L333.45,186.60 L334.45,186.60 L335.45,186.60 L336.45,186.60 L337.45,186.60 L338.45,186.60 L339.45,186.60 L340.45,186.60 L341.45,186.60 L342.45,186.60 L343.45,186.60 L344.45,186.60 L345.45,186.60 L346.45,186.60 L347.45,186.60 L348.45,186.60 L349.45,186.60 L350.45,186.60 L351.45,186.60 L352.45,186.60 L353.45,186.60 L354.45,186.60 L355.45,186.60 L356.45,186.60 L357.45,186.60 L358.45,186.60 L359.45,186.60 L360.45,186.60 L361.45,186.60 L362.45,186.60 L363.45,186.60 L364.45,186.60 L365.45,186.60 L366.45,186.60 L367.45,186.60 L368.45,186.60 L369.45,186.60 L370.45,186.60 L371.45,186.60 L372.45,186.60 L373.45,186.60 L374.45,186.60 L375.45,186.60 L376.45,186.60 L377.45,186.60 L378.45,186.60 L379.45,186.60 L380.45,186.60 L381.45,186.60 L382.45,186.60 L383.45,186.60 L384.40,186.60" stroke="#ff8000" class="sl"/>
<path d="M207.30,100.50 L208.30,102.12 L209.30,103.75 L210.30,105.39 L211.30,107.03 L212.30,108.68 L213.30,110.33 L214.30,111.98 L215.30,113.64 L216.30,115.30 L217.30,116.97 L218.30,118.63 L219.30,120.30 L220.30,121.96 L221.30,123.63 L222.30,125.30 L223.30,126.96 L224.30,128.63 L225.30,130.30 L226.30,131.96 L227.30,133.62 L228.30,135.28 L229.30,136.94 L230.30,138.60 L231.30,140.25 L232.30,141.90 L233.30,143.54 L234.30,145.18 L235.30,146.81 L236.30,148.43 L237.30,150.04 L238.30,151.64 L239.30,153.24 L240.30,154.81 L241.30,156.38 L242.30,157.92 L243.30,159.45 L244.30,160.96 L245.30,162.44 L246.30,163.89 L247.30,165.32 L248.30,166.71 L249.30,168.07 L250.30,169.38 L251.30,170.66 L252.30,171.88 L253.30,173.06 L254.30,174.19 L255.30,175.26 L256.30,176.27 L257.30,177.23 L258.30,178.13 L259.30,178.96 L260.30,179.74 L261.30,180.45 L262.30,181.11 L263.30,181.71 L264.30,182.26 L265.30,182.75 L266.30,183.20 L267.30,183.60 L268.30,183.96 L269.30,184.28 L270.30,184.57 L271.30,184.82 L272.30,185.04 L273.30,185.24 L274.30,185.41 L275.30,185.56 L276.30,185.70 L277.30,185.81 L278.30,185.92 L279.30,186.00 L280.30,186.08 L281.30,186.15 L282.30,186.21 L283.30,186.26 L284.30,186.31 L285.30,186.34 L286.30,186.38 L287.30,186.41 L288.30,186.43 L289.30,186.46 L290.30,186.47 L291.30,186.49 L292.30,186.51 L293.30,186.52 L294.30,186.53 L295.30,186.54 L296.30,186.55 L297.30,186.55 L298.30,186.56 L299.30,186.57 L300.30,186.57 L301.30,186.57 L302.30,186.58 L303.30,186.58 L304.30,186.58 L305.30,186.59 L306.30,186.59 L307.30,186.59 L308.30,186.59 L309.30,186.59 L310.30,186.59 L311.30,186.59 L312.30,186.59 L313.30,186.60 L314.30,186.60 L315.30,186.60 L316.30,186.60 L317.30,186.60 L318.30,186.60 L319.30,186.60 L320.30,186.60 L321.30,186.60 L322.30,186.60 L323.30,186.60 L324.30,186.60 L325.30,186.60 L326.30,186.60 L327.30,186.60 L328.30,186.60 L329.30,186.60 L330.30,186.60 L331.30,186.60 L332.30,186.60 L333.30,186.60 L334.30,186.60 L335.30,186.60 L336.30,186.60 L337.30,186.60 L338.30,186.60 L339.30,186.60 L340.30,186.60 L341.30,186.60 L342.30,186.60 L343.30,186.60 L344.30,186.60 L345.30,186.60 L346.30,186.60 L347.30,186.60 L348.30,186.60 L349.30,186.60 L350.30,186.60 L351.30,186.60 L352.30,186.60 L353.30,186.60 L354.30,186.60 L355.30,186.60 L356.30,186.60 L357.30,186.60 L358.30,186.60 L359.30,186.60 L360.30,186.60 L361.30,186.60 L362.30,186.60 L363.30,186.60 L364.30,186.60 L365.30,186.60 L366.30,186.60 L367.30,186.60 L368.30,186.60 L369.30,186.60 L370.30,186.60 L371.30,186.60 L372.30,186.60 L373.30,186.60 L374.30,186.60 L375.30,186.60 L376.30,186.60 L377.30,186.60 L378.30,186.60 L379.30,186.60 L380.30,186.60 L381.30,186.60 L382.30,186.60 L383.30,186.60 L384.30,186.60 L384.40,186.60" stroke="#b35900" class="sl"/>
<circle cx="116.50" cy="103.27" r="2.3" fill="#ff0000"/>
<circle cx="157.80" cy="101.40" r="2.3" fill="#ff0000"/>
<circle cx="177.00" cy="100.90" r="2.3" fill="#ff0000"/>
<circle cx="188.30" cy="100.80" r="2.3" fill="#ff0000"/>
<circle cx="196.15" cy="100.76" r="2.3" fill="#ff0000"/>
<circle cx="202.45" cy="100.57" r="2.3" fill="#ff0000"/>
<circle cx="207.30" cy="100.50" r="2.3" fill="#ff0000"/>
<path d="M63.40,230.50 v-3.40 M63.40,24.50 v3.40 M127.60,230.50 v-3.40 M127.60,24.50 v3.40 M191.80,230.50 v-3.40 M191.80,24.50 v3.40 M256.00,230.50 v-3.40 M256.00,24.50 v3.40 M320.20,230.50 v-3.40 M320.20,24.50 v3.40 M384.40,230.50 v-3.40 M384.40,24.50 v3.40 M57.40,212.56 h3.40 M391.00,212.56 h-3.40 M57.40,185.53 h3.40 M391.00,185.53 h-3.40 M57.40,158.50 h3.40 M391.00,158.50 h-3.40 M57.40,131.47 h3.40 M391.00,131.47 h-3.40 M57.40,104.44 h3.40 M391.00,104.44 h-3.40 M57.40,77.41 h3.40 M391.00,77.41 h-3.40 M57.40,50.38 h3.40 M391.00,50.38 h-3.40" class="tk"/>
<path d="M56.90,24.50 H391.50 M56.90,230.50 H391.50 " class="fr"/><path d="M57.40,24.50 V230.50 M391.00,24.50 V230.50" class="fr" style="stroke:#7a7a7a"/>
<defs><filter id="f" x="0" y="0" width="415" height="274" filterUnits="userSpaceOnUse"><feOffset dx="0" dy="0"/></filter></defs>
<g filter="url(#f)">
<text x="50.10" y="248.6" class="t"><tspan x="50.10">10</tspan><tspan class="s" dy="-6.0" dx="0.55">11</tspan></text>
<text x="114.30" y="248.6" class="t"><tspan x="114.30">10</tspan><tspan class="s" dy="-6.0" dx="0.55">12</tspan></text>
<text x="178.50" y="248.6" class="t"><tspan x="178.50">10</tspan><tspan class="s" dy="-6.0" dx="0.55">13</tspan></text>
<text x="242.70" y="248.6" class="t"><tspan x="242.70">10</tspan><tspan class="s" dy="-6.0" dx="0.55">14</tspan></text>
<text x="306.90" y="248.6" class="t"><tspan x="306.90">10</tspan><tspan class="s" dy="-6.0" dx="0.55">15</tspan></text>
<text x="371.10" y="248.6" class="t"><tspan x="371.10">10</tspan><tspan class="s" dy="-6.0" dx="0.55">16</tspan></text>
<text y="219.16" class="t" text-anchor="end"><tspan x="42.40">10</tspan></text><text y="213.46" class="s" text-anchor="end" x="54.3">−2</text>
<text y="192.13" class="t" text-anchor="end"><tspan x="42.40">10</tspan></text><text y="186.43" class="s" text-anchor="end" x="54.3">−1</text>
<text y="165.10" class="t" text-anchor="end"><tspan x="48.30">10</tspan></text><text y="159.40" class="s" text-anchor="end" x="54.3">0</text>
<text y="138.07" class="t" text-anchor="end"><tspan x="48.30">10</tspan></text><text y="132.37" class="s" text-anchor="end" x="54.3">1</text>
<text y="111.04" class="t" text-anchor="end"><tspan x="48.30">10</tspan></text><text y="105.34" class="s" text-anchor="end" x="54.3">2</text>
<text y="84.01" class="t" text-anchor="end"><tspan x="48.30">10</tspan></text><text y="78.31" class="s" text-anchor="end" x="54.3">3</text>
<text y="56.98" class="t" text-anchor="end"><tspan x="48.30">10</tspan></text><text y="51.28" class="s" text-anchor="end" x="54.3">4</text>
<!-- legend -->
<text y="47.5" class="t"><tspan x="134.8">tan</tspan><tspan class="i" x="155.3" dy="1" style="font-size:15.6px">β</tspan><tspan x="168.4" dy="-1">=</tspan><tspan x="180.9" fill="#800080">2</tspan><tspan>,</tspan><tspan x="198.8" fill="#ff00ff">10</tspan><tspan>,</tspan><tspan x="223.0" fill="#0000ff">20</tspan><tspan>,</tspan><tspan x="247.5" fill="#00aa00">30</tspan><tspan>,</tspan><tspan x="272.1" fill="#00ff00">40</tspan><tspan>,</tspan><tspan x="297.6" fill="#ff8000">50</tspan><tspan>,</tspan><tspan x="322.2" fill="#b35900">60</tspan></text>
<text x="334.3" y="71.8" class="t" textLength="48.2" lengthAdjust="spacing">SO(10)</text>
<text x="360.0" y="154.8" class="t">PS</text>
<text x="327.6" y="208.1" class="t" textLength="39.2" lengthAdjust="spacing">SU(5)</text><text x="367.4" y="211.0" class="s">std</text>
<!-- x label -->
<text y="269.6" class="t"><tspan x="195.3" class="i">M</tspan><tspan class="s i" x="208.0" dy="2.7">T</tspan><tspan x="214.7" dy="-2.7" style="letter-spacing:0.2px">[GeV]</tspan></text>
<!-- y label -->
<g transform="rotate(-90)">
<text class="t" x="-185.6" y="14.0">(</text>
<text class="t" x="-180.1" y="13.4">Γ</text>
<text class="s i" x="-173.0" y="17.6">μ</text>
<text class="s2" x="-167.7" y="13.7">+</text>
<text class="s i" x="-161.6" y="17.6">π</text>
<text class="s2" x="-152.3" y="12.4">0</text>
<text class="t" x="-147.0" y="14.3">/</text>
<text class="t" x="-143.6" y="13.4">Γ</text>
<text class="s i" x="-135.0" y="17.6">e</text>
<text class="s2" x="-129.2" y="13.7">+</text>
<text class="s i" x="-122.4" y="17.6">π</text>
<text class="s2" x="-115.8" y="12.3">0</text>
<text class="t" x="-110.2" y="13.6">)</text>
<text class="s" x="-104.4" y="17.0" textLength="35.6" lengthAdjust="spacing">FSU(5)</text>
</g>
</g>
</svg>
</body></html>
